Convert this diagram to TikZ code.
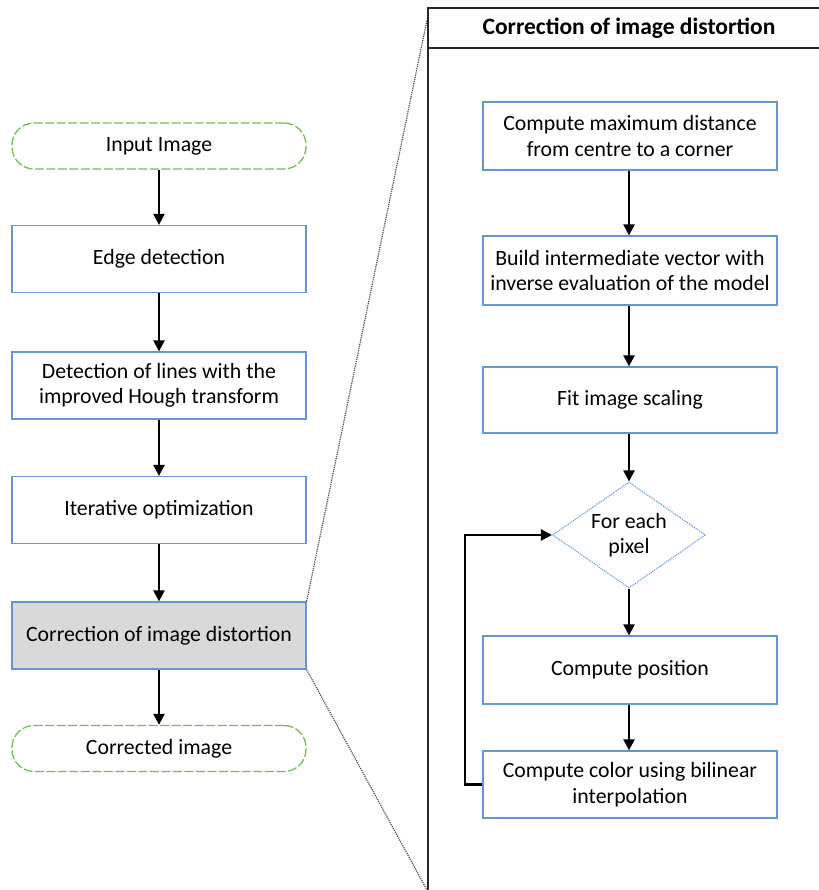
\documentclass[tikz,border=0pt]{standalone}
\usepackage{fontspec}
\setmainfont{Carlito}
\usetikzlibrary{shapes.geometric,arrows.meta}
\definecolor{termgreen}{RGB}{120,185,80}
\definecolor{boxblue}{RGB}{100,150,210}
\definecolor{boxgray}{RGB}{217,217,217}
\tikzset{
  x=1pt,y=1pt,
  every node/.style={font=\fontsize{21.8}{25.5}\selectfont, align=center},
  term/.style={draw=termgreen, dash pattern=on 9pt off 2.5pt, line width=1.3pt, rounded corners=22pt, minimum width=294pt, minimum height=46pt, inner sep=0pt},
  procbox/.style={draw=boxblue, line width=1.2pt, minimum width=294pt, minimum height=67pt, inner sep=0pt},
  decbox/.style={draw=boxblue, densely dotted, line width=1.1pt, diamond, aspect=1.45, minimum width=153pt, minimum height=106pt, inner sep=0pt},
  flow/.style={-{Triangle[length=11pt,width=11pt]}, line width=2.2pt},
  zoomline/.style={densely dotted, line width=1.2pt, gray!60!black}
}
\begin{document}
\begin{tikzpicture}
\useasboundingbox (0,0) rectangle (818,890);
% left column
\node[term] (in) at (159,744) {Input Image};
\node[procbox] (edge) at (159,631) {Edge detection};
\node[procbox] (lines) at (159,504.5) {Detection of lines with the\\improved Hough transform};
\node[procbox] (iter) at (159,380) {Iterative optimization};
\node[procbox, fill=boxgray] (corr) at (159,254.5) {Correction of image distortion};
\node[term] (out) at (159,141.5) {Corrected image};
\draw[flow] (in) -- (edge);
\draw[flow] (edge) -- (lines);
\draw[flow] (lines) -- (iter);
\draw[flow] (iter) -- (corr);
\draw[flow] (corr) -- (out);
% panel
\coordinate (ptl) at (428,882);
\coordinate (pbl) at (428,-5);
\coordinate (ptr) at (825,882);
\coordinate (pbr) at (825,-5);
\draw[line width=1.8pt, black!85] (pbl) -- (ptl) -- (ptr) -- (pbr) -- cycle;
\coordinate (tl) at (428,842);
\coordinate (tr) at (825,842);
\draw[line width=1.8pt, black!85] (tl) -- (tr);
\node[font=\fontsize{23.5}{25}\selectfont\bfseries] (title) at (629,862) {Correction of image distortion};
% zoom lines
\coordinate (zt) at (427,870);
\coordinate (zb) at (427,0);
\draw[zoomline] (corr.north east) -- (zt);
\draw[zoomline] (corr.south east) -- (zb);
% right column
\node[procbox, minimum height=68pt] (max) at (630,754) {Compute maximum distance\\from centre to a corner};
\node[procbox, minimum height=69pt] (build) at (630,619.5) {Build intermediate vector with\\inverse evaluation of the model};
\node[procbox, minimum height=66pt] (fit) at (630,490) {Fit image scaling};
\node[decbox] (each) at (629,355) {For each\\pixel};
\node[procbox, minimum height=68pt] (pos) at (630,220) {Compute position};
\node[procbox] (col) at (630,105.5) {Compute color using bilinear\\interpolation};
\draw[flow] (max.south -| each) -- (build.north -| each);
\draw[flow] (build.south -| each) -- (fit.north -| each);
\draw[flow] (fit.south -| each) -- (each);
\draw[flow] (each) -- (pos.north -| each);
\draw[flow] (pos.south -| each) -- (col.north -| each);
\coordinate (lp) at (465,0);
\draw[flow] (col.west) -- (col.west -| lp) -- (each.west -| lp) -- (each.west);
\end{tikzpicture}
\end{document}
